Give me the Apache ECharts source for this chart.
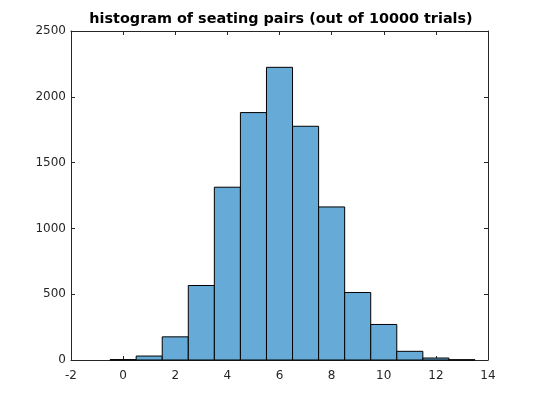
<!DOCTYPE html>
<html>
<head>
<meta charset="utf-8">
<script src="https://cdn.jsdelivr.net/npm/echarts@6/dist/echarts.min.js"></script>
<style>html,body{margin:0;padding:0;background:#fff}#c{width:540px;height:405px}</style>
</head>
<body>
<div id="c"></div>
<script>
const titleText = 'histogram of seating pairs (out of 10000 trials)';
const binCenters = [0, 1, 2, 3, 4, 5, 6, 7, 8, 9, 10, 11, 12, 13];
const counts = [3, 30, 176, 566, 1313, 1880, 2224, 1776, 1163, 513, 270, 66, 15, 2];
const binWidth = 1;
const xTicks = [-2, 0, 2, 4, 6, 8, 10, 12, 14];
const yTicks = [0, 500, 1000, 1500, 2000, 2500];

const axisColor = '#262626';
const font = 'DejaVu Sans';

const chart = echarts.init(document.getElementById('c'), null, {renderer: 'canvas'});
const data = binCenters.map((c, i) => [c, counts[i]]);

function xAxisCfg(pos, labels) {
  return {
    type: 'value', position: pos, min: xTicks[0], max: xTicks[xTicks.length - 1], interval: 2,
    axisLine: {show: true, onZero: false, lineStyle: {color: axisColor, width: 1}},
    axisTick: {show: true, inside: true, length: 4, lineStyle: {color: axisColor}},
    axisLabel: {show: labels, color: axisColor, fontFamily: font, fontSize: 12, margin: 10,
      formatter: v => String(v)},
    splitLine: {show: false}
  };
}
function yAxisCfg(pos, labels) {
  return {
    type: 'value', position: pos, min: yTicks[0], max: yTicks[yTicks.length - 1], interval: 500,
    axisLine: {show: true, onZero: false, lineStyle: {color: axisColor, width: 1}},
    axisTick: {show: true, inside: true, length: 4, lineStyle: {color: axisColor}},
    axisLabel: {show: labels, color: axisColor, fontFamily: font, fontSize: 12, margin: 5,
      formatter: v => String(v)},
    splitLine: {show: false}
  };
}

chart.setOption({
  animation: false,
  backgroundColor: '#fff',
  title: {
    text: titleText, left: 276, top: 7, textAlign: 'center',
    textStyle: {fontFamily: font, fontWeight: 'bold', fontSize: 14.4, color: '#000'}
  },
  grid: {left: 71, right: 52, top: 31, bottom: 45, containLabel: false},
  xAxis: [xAxisCfg('bottom', true), xAxisCfg('top', false)],
  yAxis: [yAxisCfg('left', true), yAxisCfg('right', false)],
  series: [{
    type: 'custom',
    xAxisIndex: 0, yAxisIndex: 0,
    data: data,
    renderItem: function (params, api) {
      const c = api.value(0), v = api.value(1);
      const p0 = api.coord([c - binWidth / 2, v]);
      const p1 = api.coord([c + binWidth / 2, 0]);
      return {
        type: 'rect',
        shape: {x: p0[0], y: p0[1], width: p1[0] - p0[0], height: p1[1] - p0[1]},
        style: {fill: 'rgb(102,170,215)', stroke: '#000', lineWidth: 1}
      };
    }
  }]
});
</script>
</body>
</html>
